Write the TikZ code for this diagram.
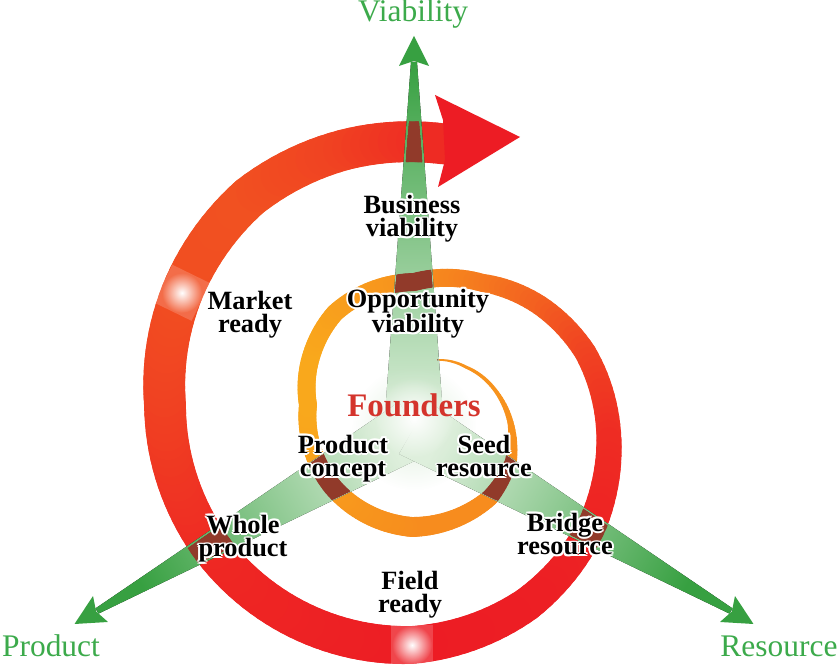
\documentclass[tikz,border=0pt]{standalone}
\usepackage{fontspec}
\setmainfont{Liberation Serif}
\usetikzlibrary{fadings}

\definecolor{beamdark}{RGB}{55,160,65}
\definecolor{beamlight}{RGB}{222,239,220}
\definecolor{axisgreen}{RGB}{60,170,75}
\definecolor{sporange}{RGB}{249,168,28}
\definecolor{spred}{RGB}{237,28,36}
\definecolor{crossbrown}{RGB}{145,58,42}
\definecolor{founderred}{RGB}{212,52,44}

\tikzfading[name=glowfade, inner color=transparent!0, outer color=transparent!100]

\tikzset{
  lbl/.style={font=\fontsize{15}{13.6}\selectfont\bfseries, align=center, anchor=base, inner sep=0pt},
  axislbl/.style={font=\fontsize{17.9}{20}\selectfont, text=axisgreen, anchor=base, inner sep=0pt},
  beam/.style={top color=beamdark, bottom color=beamlight},
}

% black label with a white rim
\newcommand\halolbl[3]{%
  \foreach \hx/\hy in {1.1/0,-1.1/0,0/1.1,0/-1.1,.8/.8,-.8/.8,.8/-.8,-.8/-.8}
    \node[lbl, text=white, xshift=\hx pt, yshift=\hy pt] at (#2) {#3};
  \node[lbl] (#1) at (#2) {#3};}

% spiral: angle (clockwise from top) / radius / width / orange share
\newcommand\spirallist{30/52/1.5/85, 55/66/3/85, 82/86/4/85, 100/100/6/84, 120/114/12/82,
  140/121/17/80, 180/122/20/80, 224/114/19/90, 250/108/18/97, 270/104/18/100,
  299/113/18/100, 320/120/18/95, 361/123/18/85, 390/141/18/68, 412/162/20/50,
  433/181/22/30, 460/200/25/12, 483/216/29/6, 510/230/34/2, 540/240/38/0,
  594/246/40/8, 630/247/42/25, 656/256/42/35, 682/264/42/38, 705/264/41/28,
  727/263/41/10}
\newcommand\spiralband[1]{%
  \begin{scope}[shift={(spc)}]
    \foreach \phiv/\radv/\widv/\colv [remember=\phiv as \phiu (initially 30),
        remember=\radv as \radu (initially 52), remember=\widv as \widu (initially 1.5),
        remember=\colv as \colu (initially 85)] in \spirallist {
      \pgfmathtruncatemacro\nseg{max(1,(\phiv-\phiu)/2)}
      \foreach \i in {1,...,\nseg}{
        \pgfmathsetmacro\tA{(\i-1)/\nseg}
        \pgfmathsetmacro\tB{\i/\nseg}
        \pgfmathsetmacro\fA{\phiu+(\phiv-\phiu)*\tA}
        \pgfmathsetmacro\fB{\phiu+(\phiv-\phiu)*\tB}
        \pgfmathsetmacro\rA{\radu+(\radv-\radu)*\tA}
        \pgfmathsetmacro\rB{\radu+(\radv-\radu)*\tB}
        \pgfmathsetmacro\lw{(\widu+(\widv-\widu)*(\tA+\tB)/2)*0.5669}
        \pgfmathsetmacro\mixc{\colu+(\colv-\colu)*(\tA+\tB)/2}
        \colorlet{segcol}{sporange!\mixc!spred}
        \draw[line width=\lw pt, line cap=round, segcol, #1] ({90-\fA}:\rA) -- ({90-\fB}:\rB);
      }
    }
  \end{scope}}

\begin{document}
\begin{tikzpicture}[x=0.02cm, y=0.02cm]
  \useasboundingbox (0,0) rectangle (840,666);
  \fill[white] (0,0) rectangle (840,666);
  \coordinate (hub) at (414,238);
  \coordinate (spc) at (412,261);
  \coordinate (mktspot) at ([shift={(-566:256)}]spc);
  \coordinate (fieldspot) at ([shift={(-450:240)}]spc);

  \spiralband{}

  % light spots on the ring
  \begin{scope}[shift={(mktspot)}, rotate=64]
    \fill[white, opacity=.18] (-21,-21) rectangle (21,21);
  \end{scope}
  \fill[white, opacity=.18] ([shift={(-21,-20)}]fieldspot) rectangle ([shift={(21,20)}]fieldspot);
  \fill[white, path fading=glowfade] (mktspot) circle (20);
  \fill[white, path fading=glowfade] (fieldspot) circle (20);

  % head of the spiral
  \fill[spred] (435,571) -- (520,529) -- (438,479) -- (445,506) -- (443,546) -- cycle;

  % the three beams
  \foreach \a [evaluate=\a as \rot using \a-90] in {90,210,330}
    \fill[beam, shading angle=\rot, shift={(hub)}, rotate=\rot]
      (-30,0) -- (-3,366) -- (3,366) -- (30,0) -- cycle;
  \fill[beamlight, path fading=glowfade] (hub) circle (62);
  \fill[white, path fading=glowfade] ([shift={(0,10)}]hub) circle (40);

  % where the beams cross the spiral
  \begin{scope}
    \clip \foreach \a in {90,210,330}{([shift={(\a+90:30)}]hub) -- ([shift={(\a:366)}]hub)
      -- ([shift={(\a-90:30)}]hub) -- cycle};
    \spiralband{crossbrown}
  \end{scope}

  \foreach \a [evaluate=\a as \rot using \a-90] in {90,210,330}
    \fill[beamdark, shift={(hub)}, rotate=\rot] (-15,362) -- (0,392) -- (15,362) -- (0,367) -- cycle;
  \coordinate (viatip) at ([shift={(90:392)}]hub);
  \coordinate (prodtip) at ([shift={(210:392)}]hub);
  \coordinate (restip) at ([shift={(330:392)}]hub);

  \node[axislbl] (viab) at (413,644) {Viability};
  \node[axislbl] (prod) at (51,9) {Product};
  \node[axislbl] (res) at (779,9) {Resource};

  \node[font=\fontsize{18.7}{20}\selectfont\bfseries, text=founderred, anchor=base] (founders) at (414,249) {Founders};

  \halolbl{bizviab}{412,429}{Business\\viability}
  \halolbl{oppviab}{418,333}{Opportunity\\viability}
  \halolbl{market}{250,333}{Market\\ready}
  \halolbl{concept}{343,189}{Product\\concept}
  \halolbl{seed}{484,189}{Seed\\resource}
  \halolbl{whole}{243,109}{Whole\\product}
  \halolbl{bridge}{565,111}{Bridge\\resource}
  \halolbl{field}{410,53}{Field\\ready}
\end{tikzpicture}
\end{document}
